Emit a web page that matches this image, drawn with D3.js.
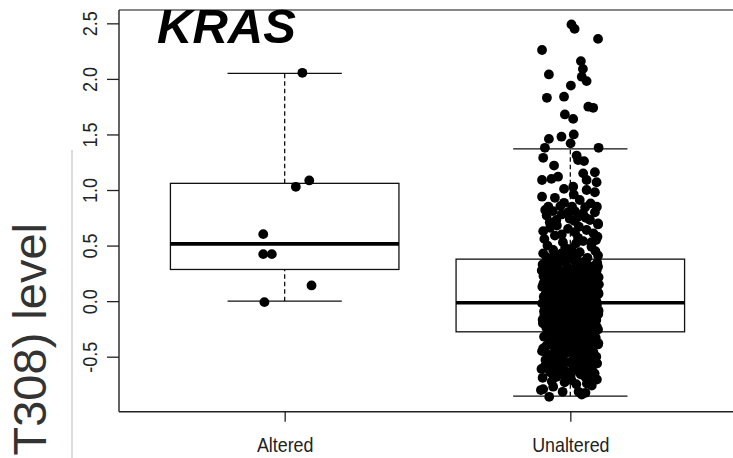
<!DOCTYPE html>
<html>
<head>
<meta charset="utf-8">
<script src="https://cdn.jsdelivr.net/npm/d3@7"></script>
<style>
  body { margin: 0; background: #fff; }
  svg { display: block; }
  .tick-lab { font-family: "Liberation Sans Narrow", "Liberation Sans", Arial, sans-serif; fill: #222; }
</style>
</head>
<body>
<div id="vis"></div>
<script>

var groups = ['Altered', 'Unaltered'];
var yTicks = [-0.5, 0, 0.5, 1, 1.5, 2, 2.5];

// box statistics (lower whisker, hinges, median, upper whisker)
var whiskerLow = [0.0, -0.855];
var hingeLow = [0.285, -0.276];
var medians = [0.515, -0.015];
var hingeHigh = [1.06, 0.378];
var whiskerHigh = [2.05, 1.371];

// [value, horizontal jitter in group units]
var alteredPoints = [
  [2.055, 0.062], [1.086, 0.086], [1.029, 0.039], [0.603, -0.075],
  [0.423, -0.075], [0.423, -0.045], [0.141, 0.094], [-0.009, -0.071]
];

var unalteredPoints = [
  // upper tail
  [2.49, 0.004], [2.45, 0.015], [2.36, 0.097], [2.26, -0.099], [2.16, 0.037], [2.09, 0.044], [2.04, -0.075], [2.02, 0.04],
  [1.98, 0.057], [1.94, 0.002], [1.84, -0.022], [1.83, -0.082], [1.75, 0.063], [1.74, 0.08], [1.68, -0.019], [1.64, 0.01],
  [1.50, 0.012], [1.48, -0.031], [1.46, -0.075], [1.42, 0.001], [1.38, -0.089], [1.38, 0.099],
  [1.29, -0.095], [1.31, 0.022], [1.27, 0.027], [1.26, 0.048], [1.22, -0.057], [1.16, 0.086], [1.15, 0.045], [1.09, -0.099],
  [1.10, -0.066], [1.12, -0.043], [1.01, -0.022], [1.03, 0.01], [1.09, 0.057], [1.07, 0.092], [0.98, 0.086], [1.00, 0.057],
  [0.94, -0.099], [0.93, -0.054], [0.91, 0.033], [0.885, -0.022],
  [0.85, -0.077], [0.855, -0.035], [0.85, 0.006], [0.845, 0.052], [0.85, 0.093],
  [0.82, -0.088], [0.81, -0.061], [0.80, -0.008], [0.81, 0.016], [0.79, 0.044], [0.80, 0.086],
  [0.71, -0.072], [0.73, -0.049], [0.74, -0.002], [0.76, 0.027], [0.73, 0.069], [0.70, 0.097],
  [0.63, -0.095], [0.59, -0.054], [0.65, -0.008], [0.62, 0.016], [0.64, 0.057], [0.69, 0.097],
  [0.53, -0.026], [0.57, 0.027], [0.53, 0.074], [0.50, -0.08], [0.55, 0.09], [0.60, -0.03], [0.67, 0.03], [0.58, 0.095],
  [0.43, -0.095], [0.41, -0.054], [0.43, -0.031], [0.47, 0.004], [0.44, 0.033], [0.49, 0.074], [0.41, 0.097],
  [0.39, 0.06], [0.40, -0.01], [0.46, -0.06], [0.52, 0.02],
  [0.96, 0.012], [0.88, 0.071], [0.77, -0.083], [0.75, 0.054], [0.68, -0.047], [0.61, 0.081], [0.56, -0.091], [0.54, 0.045],
  [0.48, -0.018], [0.45, 0.088], [0.42, 0.012], [0.395, -0.083], [0.66, -0.071], [0.78, -0.03], [0.72, 0.015],
  // middle half
  [0.37, -0.071], [0.36, 0.052], [0.35, -0.018], [0.345, 0.094], [0.33, -0.097], [0.325, 0.021], [0.31, -0.044], [0.30, 0.076], [0.29, -0.083], [0.285, 0.008],
  [0.28, 0.063], [0.27, -0.059], [0.26, 0.031], [0.255, -0.091], [0.25, 0.087], [0.24, -0.012], [0.23, 0.045], [0.22, -0.067], [0.215, 0.099], [0.20, -0.035],
  [0.195, 0.068], [0.19, -0.088], [0.18, 0.014], [0.17, -0.052], [0.165, 0.091], [0.16, 0.037], [0.15, -0.074], [0.14, -0.006], [0.135, 0.059], [0.13, -0.098],
  [0.12, 0.026], [0.11, -0.041], [0.105, 0.083], [0.10, -0.069], [0.09, 0.047], [0.085, -0.015], [0.08, 0.096], [0.07, -0.086], [0.065, 0.005], [0.06, 0.071],
  [0.05, -0.048], [0.045, 0.034], [0.04, -0.093], [0.03, 0.089], [0.025, -0.023], [0.02, 0.056], [0.01, -0.064], [0.005, 0.018], [0.0, -0.081], [-0.005, 0.078],
  [-0.01, -0.032], [-0.015, 0.041], [-0.02, -0.099], [-0.03, 0.062], [-0.035, -0.009], [-0.04, 0.093], [-0.05, -0.057], [-0.055, 0.027], [-0.06, -0.077], [-0.07, 0.084],
  [-0.075, -0.028], [-0.08, 0.049], [-0.09, -0.092], [-0.095, 0.011], [-0.10, 0.073], [-0.11, -0.046], [-0.115, 0.098], [-0.12, -0.068], [-0.13, 0.036], [-0.135, -0.013],
  [-0.14, 0.066], [-0.15, -0.087], [-0.155, 0.022], [-0.16, -0.039], [-0.17, 0.091], [-0.175, -0.075], [-0.18, 0.053], [-0.19, -0.004], [-0.195, 0.079], [-0.20, -0.096],
  [-0.21, 0.029], [-0.215, -0.053], [-0.22, 0.088], [-0.23, -0.021], [-0.235, 0.061], [-0.24, -0.084], [-0.25, 0.012], [-0.255, 0.097], [-0.26, -0.062], [-0.27, 0.043],
  [0.372, 0.011], [0.352, -0.063], [0.318, 0.084], [0.296, 0.027], [0.268, -0.027], [0.244, 0.071], [0.226, -0.094], [0.204, 0.047], [0.183, -0.016], [0.158, 0.062],
  [0.143, -0.058], [0.122, 0.093], [0.097, -0.031], [0.076, 0.038], [0.052, -0.073], [0.034, 0.066], [0.013, -0.045], [-0.008, 0.092], [-0.026, 0.003], [-0.044, -0.066],
  [-0.062, 0.057], [-0.083, -0.019], [-0.102, 0.032], [-0.124, -0.091], [-0.146, 0.081], [-0.163, 0.002], [-0.186, -0.048], [-0.204, 0.064], [-0.228, -0.036], [-0.247, 0.051],
  [-0.266, -0.011], [0.338, 0.04], [0.212, 0.009], [0.087, -0.054], [-0.041, 0.071], [-0.167, -0.097], [0.276, -0.1], [0.151, 0.1], [0.028, -0.085], [-0.113, 0.017],
  [0.362, -0.039], [0.229, 0.025], [0.118, -0.079], [-0.017, 0.048], [-0.138, -0.031], [-0.258, 0.074], [0.309, 0.097], [0.173, -0.026], [0.058, 0.085], [-0.072, -0.052],
  [-0.198, 0.038], [0.262, -0.048], [0.131, 0.003], [0.006, -0.061], [-0.087, 0.099], [-0.214, -0.071], [0.331, 0.058], [0.198, -0.08], [-0.05, 0.015], [-0.235, -0.005],
  [0.358, 0.029], [0.302, -0.009], [0.247, -0.042], [0.188, 0.041], [0.127, -0.022], [0.071, 0.021], [0.017, 0.033], [-0.037, -0.041], [-0.092, 0.054], [-0.148, 0.006],
  [-0.203, -0.022], [-0.262, 0.025], [0.334, -0.078], [0.273, 0.092], [0.218, -0.008], [0.162, -0.094], [0.108, 0.061], [0.044, -0.004], [-0.012, 0.066], [-0.066, -0.088],
  [-0.121, 0.085], [-0.178, 0.028], [-0.232, 0.093], [0.289, 0.044], [0.141, 0.023], [-0.003, -0.018], [-0.158, -0.064], [0.391, -0.045], [0.066, 0.099], [-0.208, 0.009],
  [0.315, -0.066], [0.176, 0.076], [0.036, -0.058], [-0.106, -0.008], [-0.244, -0.047], [0.224, 0.062], [-0.058, 0.009], [0.093, 0.014], [-0.183, 0.071], [0.257, -0.075],
  // lower tail
  [-0.29, 0.071], [-0.30, -0.046], [-0.31, 0.018], [-0.32, -0.092], [-0.33, 0.089], [-0.34, -0.011], [-0.35, 0.054], [-0.36, -0.07], [-0.37, 0.033], [-0.38, -0.029],
  [-0.39, 0.097], [-0.40, -0.083], [-0.41, 0.006], [-0.42, 0.066], [-0.43, -0.054], [-0.44, 0.024], [-0.45, -0.099], [-0.46, 0.081], [-0.47, -0.016], [-0.48, 0.047],
  [-0.49, -0.064], [-0.50, 0.091], [-0.51, -0.038], [-0.52, 0.012], [-0.53, -0.087], [-0.54, 0.059], [-0.55, -0.003], [-0.56, 0.093], [-0.57, -0.05], [-0.58, 0.028],
  [-0.59, -0.089], [-0.60, 0.068], [-0.62, -0.021], [-0.63, 0.041], [-0.64, -0.071], [-0.65, 0.085], [-0.66, 0.002], [-0.67, -0.058], [-0.68, 0.052], [-0.69, -0.097],
  [-0.305, 0.002], [-0.325, 0.049], [-0.345, -0.063], [-0.365, 0.077], [-0.385, -0.005], [-0.405, 0.038], [-0.425, -0.095], [-0.445, 0.061], [-0.465, -0.035], [-0.485, 0.015],
  [-0.505, -0.076], [-0.525, 0.074], [-0.545, -0.024], [-0.565, 0.031], [-0.585, -0.061], [-0.61, -0.101], [-0.80, -0.103], [-0.861, -0.074], [-0.816, -0.027], [-0.816, 0.029],
  [-0.825, 0.053], [-0.792, -0.095], [-0.711, 0.004], [-0.741, 0.058], [-0.705, 0.093], [-0.591, -0.089], [-0.561, 0.093], [-0.681, -0.048], [-0.73, -0.02], [-0.76, 0.075],
  [-0.62, 0.01], [-0.655, 0.072], [-0.60, -0.045], [-0.77, -0.06], [-0.84, 0.04],
  [-0.295, -0.081], [-0.318, 0.063], [-0.338, 0.027], [-0.356, -0.037], [-0.378, 0.098], [-0.396, -0.056], [-0.418, 0.041], [-0.436, -0.017], [-0.455, 0.069], [-0.474, -0.081],
  [-0.494, 0.028], [-0.516, -0.058], [-0.533, 0.085], [-0.552, 0.044], [-0.574, -0.072], [-0.596, 0.011], [-0.615, 0.058], [-0.636, -0.042], [-0.658, 0.036], [-0.675, -0.018],
  [-0.695, 0.068], [-0.722, -0.065], [-0.748, 0.021], [-0.31, -0.027], [-0.362, 0.012], [-0.412, -0.032], [-0.462, 0.006], [-0.512, 0.047], [-0.542, -0.046], [-0.582, 0.078]
];

var pointSets = [alteredPoints, unalteredPoints];

var width = 733;
var height = 458;
var plot = { left: 119, right: 736, top: 10, bottom: 411.7 };

var svg = d3.select('#vis').append('svg')
  .attr('width', width)
  .attr('height', height);

// x runs from 0.42 to 2.58 in group units, like R's padded boxplot range
var x = d3.scaleLinear().domain([0.42, 2.58]).range([plot.left, plot.right]);
var y = d3.scaleLinear().domain([-0.995, 2.62]).range([plot.bottom, plot.top]);

var boxHalf = 0.4;
var capHalf = 0.2;

// boxes
groups.forEach(function (g, i) {
  var cx = i + 1;
  var gBox = svg.append('g');

  // dashed whiskers
  gBox.selectAll('.whisker')
    .data([[whiskerLow[i], hingeLow[i]], [hingeHigh[i], whiskerHigh[i]]])
    .enter().append('line')
    .attr('x1', x(cx)).attr('x2', x(cx))
    .attr('y1', function (d) { return y(d[0]); })
    .attr('y2', function (d) { return y(d[1]); })
    .attr('stroke', '#111')
    .attr('stroke-width', 1.3)
    .attr('stroke-dasharray', '4.5,3');

  gBox.selectAll('.cap')
    .data([whiskerLow[i], whiskerHigh[i]])
    .enter().append('line')
    .attr('x1', x(cx - capHalf)).attr('x2', x(cx + capHalf))
    .attr('y1', function (d) { return y(d); })
    .attr('y2', function (d) { return y(d); })
    .attr('stroke', '#111')
    .attr('stroke-width', 1.3);

  gBox.append('rect')
    .attr('x', x(cx - boxHalf))
    .attr('y', y(hingeHigh[i]))
    .attr('width', x(cx + boxHalf) - x(cx - boxHalf))
    .attr('height', y(hingeLow[i]) - y(hingeHigh[i]))
    .attr('fill', 'none')
    .attr('stroke', '#111')
    .attr('stroke-width', 1.3);

  gBox.append('line')
    .attr('x1', x(cx - boxHalf)).attr('x2', x(cx + boxHalf))
    .attr('y1', y(medians[i])).attr('y2', y(medians[i]))
    .attr('stroke', '#000')
    .attr('stroke-width', 3.6);
});

// jittered points
pointSets.forEach(function (pts, i) {
  svg.append('g').selectAll('circle')
    .data(pts)
    .enter().append('circle')
    .attr('cx', function (d) { return x(i + 1 + d[1]); })
    .attr('cy', function (d) { return y(d[0]); })
    .attr('r', 4.9)
    .attr('fill', '#000');
});

// frame
svg.append('line')
  .attr('x1', plot.left).attr('x2', plot.right)
  .attr('y1', plot.top).attr('y2', plot.top)
  .attr('stroke', '#888').attr('stroke-width', 2);
svg.append('line')
  .attr('x1', plot.left).attr('x2', plot.right)
  .attr('y1', plot.bottom).attr('y2', plot.bottom)
  .attr('stroke', '#222').attr('stroke-width', 1.4);
svg.append('line')
  .attr('x1', plot.left).attr('x2', plot.left)
  .attr('y1', plot.top).attr('y2', plot.bottom)
  .attr('stroke', '#222').attr('stroke-width', 1.4);

// narrow the axis text, the original uses a condensed face
function squeeze(sel, factor) {
  sel.each(function () {
    var len = this.getComputedTextLength();
    d3.select(this)
      .attr('textLength', len * factor)
      .attr('lengthAdjust', 'spacingAndGlyphs');
  });
}

// y axis
var yAxis = svg.append('g')
  .attr('transform', 'translate(' + plot.left + ',0)')
  .call(d3.axisLeft(y).tickValues(yTicks).tickSize(12)
    .tickFormat(function (d) { return d.toFixed(1); }));
yAxis.select('.domain').remove();
yAxis.selectAll('.tick line').attr('stroke', '#222').attr('stroke-width', 1.3);
yAxis.selectAll('.tick text')
  .attr('class', 'tick-lab')
  .attr('transform', 'rotate(-90)')
  .attr('x', 0)
  .attr('y', -22)
  .attr('dy', 0)
  .attr('text-anchor', 'middle')
  .style('font-size', '20px')
  .call(squeeze, 0.9);

// x axis
var xAxis = svg.append('g')
  .attr('transform', 'translate(0,' + plot.bottom + ')')
  .call(d3.axisBottom(x).tickValues([1, 2]).tickSize(10)
    .tickFormat(function (d) { return groups[d - 1]; }));
xAxis.select('.domain').remove();
xAxis.selectAll('.tick line').attr('stroke', '#222').attr('stroke-width', 1.3);
xAxis.selectAll('.tick text')
  .attr('class', 'tick-lab')
  .attr('y', 40.5)
  .attr('dy', 0)
  .style('font-size', '21px')
  .call(squeeze, 0.85);

// title
svg.append('text')
  .attr('x', 157)
  .attr('y', 43)
  .style('font-family', '"Liberation Sans", Arial, sans-serif')
  .style('font-weight', 'bold')
  .style('font-style', 'italic')
  .style('font-size', '49px')
  .attr('fill', '#000')
  .text('KRAS');

// left edge: clipped axis title from the neighbouring panel
svg.append('line')
  .attr('x1', 72).attr('x2', 72)
  .attr('y1', 150).attr('y2', height)
  .attr('stroke', '#bbb').attr('stroke-width', 1);

svg.append('text')
  .attr('transform', 'translate(46,223) rotate(-90)')
  .attr('text-anchor', 'end')
  .style('font-family', '"Liberation Sans", Arial, sans-serif')
  .style('font-size', '47px')
  .attr('fill', '#333')
  .text('T308) level');

</script>
</body>
</html>
